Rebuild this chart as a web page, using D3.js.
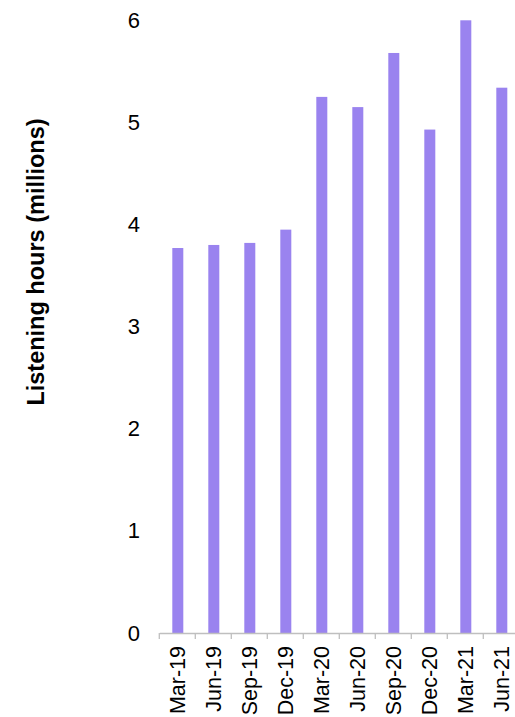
<!DOCTYPE html>
<html>
<head>
<meta charset="utf-8">
<script src="https://cdn.jsdelivr.net/npm/d3@7"></script>
<style>
  html, body { margin: 0; padding: 0; background: #fff; }
  svg { display: block; }
  text { font-family: "Liberation Sans", Arial, sans-serif; fill: #000; }
</style>
</head>
<body>
<svg id="chart" width="515" height="717"></svg>
<script>
const categories = ["Mar-19","Jun-19","Sep-19","Dec-19","Mar-20","Jun-20","Sep-20","Dec-20","Mar-21","Jun-21"];
const values = [3.77, 3.80, 3.82, 3.95, 5.25, 5.15, 5.68, 4.93, 6.0, 5.34];
const yTicks = [0, 1, 2, 3, 4, 5, 6];
const yTitle = "Listening hours (millions)";

const svg = d3.select("#chart");
const x = d3.scaleBand().domain(categories).range([159.3, 519.3]).paddingInner(0).paddingOuter(0);
const y = d3.scaleLinear().domain([0, 6]).range([633, 20.3]);
const barW = 11;

// bars
svg.append("g").selectAll("rect").data(values).join("rect")
  .attr("x", (d, i) => x(categories[i]) + x.bandwidth() / 2 - barW / 2 + 0.5)
  .attr("y", d => y(d))
  .attr("width", barW)
  .attr("height", d => y(0) - y(d))
  .attr("fill", "#9a83ef");

// x axis
const xAxis = svg.append("g").attr("transform", `translate(0,${y(0)})`)
  .call(d3.axisBottom(x).tickSize(0).tickFormat(""));
xAxis.select(".domain").attr("stroke", "#bfbfbf").attr("stroke-width", 1.3);
// boundary ticks
const bounds = categories.map(c => x(c)).concat([x.range()[1]]);
xAxis.selectAll("line.bt").data(bounds).join("line").attr("class", "bt")
  .attr("x1", d => d).attr("x2", d => d).attr("y1", 0).attr("y2", 6)
  .attr("stroke", "#bfbfbf").attr("stroke-width", 1.3);

// x labels
svg.append("g").selectAll("text").data(categories).join("text")
  .attr("transform", d => `translate(${x(d) + x.bandwidth() / 2},646) rotate(-90)`)
  .attr("text-anchor", "end")
  .attr("dy", "0.35em")
  .style("font-size", "21.5px")
  .text(d => d);

// y axis labels
const yAxis = svg.append("g").attr("transform", "translate(140,0)")
  .call(d3.axisLeft(y).tickValues(yTicks).tickSize(0).tickPadding(0).tickFormat(d3.format("d")));
yAxis.select(".domain").remove();
yAxis.selectAll("text").style("font-size", "22px").style("font-family", "Liberation Sans, Arial, sans-serif").attr("fill", "#000");

// y title
svg.append("text")
  .attr("transform", "translate(36,262) rotate(-90)")
  .attr("text-anchor", "middle")
  .attr("dy", "0.35em")
  .style("font-size", "23.5px")
  .style("font-weight", "bold")
  .text(yTitle);
</script>
</body>
</html>
